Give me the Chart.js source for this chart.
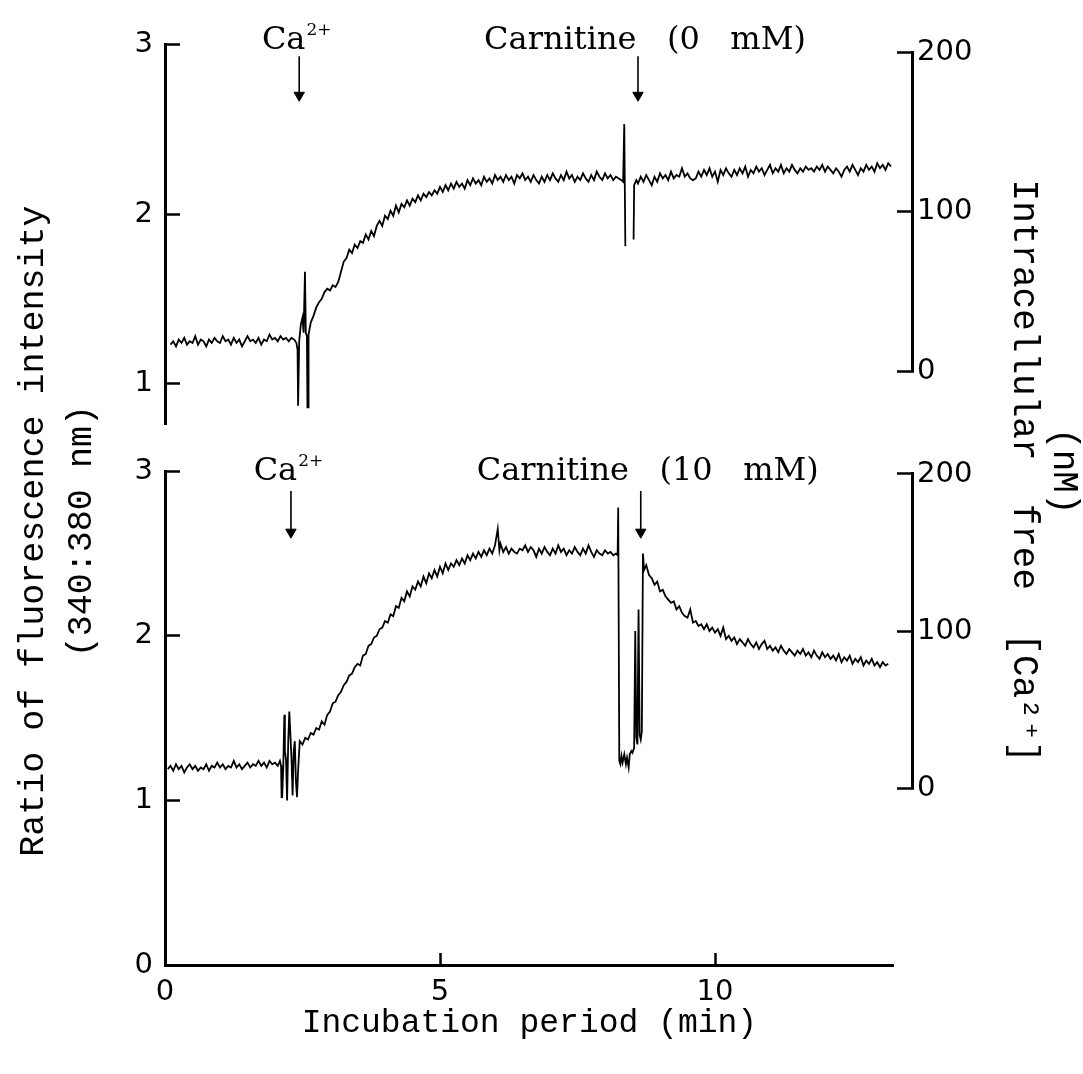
<!DOCTYPE html>
<html>
<head>
<meta charset="utf-8">
<script src="https://cdn.jsdelivr.net/npm/chart.js@4/dist/chart.umd.min.js"></script>
<style>
html,body{margin:0;padding:0;background:#fff;}
#wrap{position:relative;width:1083px;height:1074px;}
canvas{display:block;}
</style>
</head>
<body>
<div id="wrap"><canvas id="c" width="1083" height="1074"></canvas></div>
<script>
// ---------------- DATA ----------------
// Axis tick labels
const timeTicks = [0, 5, 10];
const ratioTicksTop = [1, 2, 3];
const ratioTicksBottom = [0, 1, 2, 3];
const caTicks = [0, 100, 200];

// Events (time in min) and their labels
const topEventTimes = [2.44, 8.60];
const topEventLabels = [['Ca', '2+'], ['Carnitine   (0   mM)', '']];
const bottomEventTimes = [2.29, 8.65];
const bottomEventLabels = [['Ca', '2+'], ['Carnitine   (10   mM)', '']];

// Top trace: carnitine 0 mM  [time (min), ratio 340:380]
const topTrace = [
[0.10,1.23],[0.15,1.25],[0.20,1.22],[0.25,1.26],[0.30,1.24],[0.35,1.27],[0.40,1.23],[0.45,1.25],[0.50,1.24],[0.55,1.28],
[0.60,1.23],[0.65,1.26],[0.70,1.25],[0.75,1.22],[0.80,1.26],[0.85,1.24],[0.90,1.27],[0.95,1.25],[1.00,1.24],[1.05,1.28],
[1.10,1.25],[1.15,1.26],[1.20,1.23],[1.25,1.27],[1.30,1.24],[1.35,1.26],[1.40,1.22],[1.45,1.25],[1.50,1.28],[1.55,1.25],
[1.60,1.26],[1.65,1.24],[1.70,1.27],[1.75,1.23],[1.80,1.26],[1.85,1.25],[1.90,1.29],[1.95,1.26],[2.00,1.27],[2.05,1.25],
[2.10,1.28],[2.15,1.26],[2.20,1.27],[2.25,1.25],[2.30,1.27],[2.35,1.26],
[2.39,1.24],[2.41,1.20],[2.42,0.87],[2.44,1.25],[2.47,1.35],[2.50,1.39],[2.52,1.30],[2.545,1.66],[2.56,1.30],[2.58,1.28],
[2.59,0.86],[2.605,0.86],[2.61,1.29],
[2.65,1.36],[2.70,1.40],[2.75,1.45],[2.80,1.48],[2.85,1.50],[2.90,1.54],[2.95,1.56],[3.00,1.55],[3.05,1.58],[3.10,1.57],
[3.15,1.60],[3.20,1.66],[3.25,1.72],[3.30,1.74],[3.35,1.79],[3.40,1.77],[3.45,1.82],[3.50,1.80],[3.55,1.84],[3.60,1.83],
[3.65,1.88],[3.70,1.85],[3.75,1.90],[3.80,1.87],[3.85,1.93],[3.90,1.96],[3.95,1.93],[4.00,1.99],[4.05,1.97],[4.10,2.02],
[4.15,1.99],[4.20,2.05],[4.25,2.01],[4.30,2.06],[4.35,2.04],[4.40,2.08],[4.45,2.05],[4.50,2.09],[4.55,2.07],[4.60,2.11],
[4.65,2.08],[4.70,2.12],[4.75,2.10],[4.80,2.13],[4.85,2.11],[4.90,2.14],[4.95,2.12],[5.00,2.16],[5.05,2.13],[5.10,2.17],
[5.15,2.14],[5.20,2.18],[5.25,2.15],[5.30,2.19],[5.35,2.16],[5.40,2.18],[5.45,2.15],[5.50,2.20],[5.55,2.17],[5.60,2.21],
[5.65,2.18],[5.70,2.20],[5.75,2.17],[5.80,2.22],[5.85,2.19],[5.90,2.21],[5.95,2.18],[6.00,2.23],[6.05,2.20],[6.10,2.22],
[6.15,2.19],[6.20,2.23],[6.25,2.20],[6.30,2.22],[6.35,2.18],[6.40,2.23],[6.45,2.21],[6.50,2.24],[6.55,2.20],[6.60,2.22],
[6.65,2.19],[6.70,2.23],[6.75,2.20],[6.80,2.18],[6.85,2.22],[6.90,2.19],[6.95,2.23],[7.00,2.20],[7.05,2.24],[7.10,2.21],
[7.15,2.19],[7.20,2.23],[7.25,2.20],[7.30,2.25],[7.35,2.21],[7.40,2.23],[7.45,2.19],[7.50,2.22],[7.55,2.20],[7.60,2.24],
[7.65,2.21],[7.70,2.19],[7.75,2.23],[7.80,2.20],[7.85,2.25],[7.90,2.22],[7.95,2.20],[8.00,2.24],[8.05,2.21],[8.10,2.23],
[8.15,2.20],[8.20,2.22],[8.25,2.21],[8.30,2.20],[8.33,2.19],[8.35,2.53],[8.37,1.81],[8.45,null],
[8.52,1.85],[8.53,2.17],[8.57,2.20],[8.60,2.18],[8.65,2.22],[8.70,2.19],[8.75,2.23],[8.80,2.20],[8.85,2.17],[8.90,2.22],
[8.95,2.19],[9.00,2.24],[9.05,2.21],[9.10,2.23],[9.15,2.20],[9.20,2.25],[9.25,2.21],[9.30,2.23],[9.35,2.22],[9.40,2.27],
[9.45,2.22],[9.50,2.24],[9.55,2.21],[9.60,2.20],[9.65,2.21],[9.70,2.25],[9.75,2.22],[9.80,2.26],[9.85,2.23],[9.90,2.27],
[9.95,2.22],[10.00,2.25],[10.05,2.19],[10.10,2.26],[10.15,2.23],[10.20,2.27],[10.25,2.24],[10.30,2.22],[10.35,2.26],[10.40,2.23],
[10.45,2.27],[10.50,2.24],[10.55,2.28],[10.60,2.22],[10.65,2.26],[10.70,2.24],[10.75,2.28],[10.80,2.25],[10.85,2.27],[10.90,2.23],
[10.95,2.26],[11.00,2.29],[11.05,2.24],[11.10,2.27],[11.15,2.25],[11.20,2.29],[11.25,2.24],[11.30,2.27],[11.35,2.25],[11.40,2.29],
[11.45,2.26],[11.50,2.24],[11.55,2.27],[11.60,2.25],[11.65,2.28],[11.70,2.26],[11.75,2.27],[11.80,2.25],[11.85,2.28],[11.90,2.26],
[11.95,2.29],[12.00,2.25],[12.05,2.28],[12.10,2.26],[12.15,2.24],[12.20,2.27],[12.25,2.25],[12.30,2.22],[12.35,2.26],[12.40,2.28],
[12.45,2.25],[12.50,2.29],[12.55,2.26],[12.60,2.23],[12.65,2.27],[12.70,2.25],[12.75,2.29],[12.80,2.26],[12.85,2.28],[12.90,2.25],
[12.95,2.30],[13.00,2.27],[13.05,2.29],[13.10,2.26],[13.15,2.30],[13.20,2.28]
];

// Bottom trace: carnitine 10 mM  [time (min), ratio 340:380]
const bottomTrace = [
[0.05,1.19],[0.10,1.21],[0.15,1.18],[0.20,1.22],[0.25,1.19],[0.30,1.21],[0.35,1.17],[0.40,1.20],[0.45,1.22],[0.50,1.19],
[0.55,1.21],[0.60,1.18],[0.65,1.20],[0.70,1.19],[0.75,1.22],[0.80,1.18],[0.85,1.21],[0.90,1.20],[0.95,1.23],[1.00,1.20],
[1.05,1.22],[1.10,1.19],[1.15,1.21],[1.20,1.20],[1.25,1.24],[1.30,1.20],[1.35,1.22],[1.40,1.19],[1.45,1.21],[1.50,1.23],
[1.55,1.20],[1.60,1.22],[1.65,1.21],[1.70,1.24],[1.75,1.21],[1.80,1.23],[1.85,1.20],[1.90,1.24],[1.95,1.22],[2.00,1.23],
[2.05,1.21],[2.09,1.24],
[2.11,1.21],[2.12,1.02],[2.13,1.02],[2.15,1.20],[2.17,1.52],[2.18,1.30],[2.20,1.25],[2.22,1.00],[2.24,1.35],[2.26,1.54],
[2.28,1.40],[2.30,1.25],[2.32,1.03],[2.34,1.30],[2.36,1.36],[2.38,1.12],[2.40,1.02],[2.42,1.18],
[2.45,1.36],[2.50,1.34],[2.55,1.38],[2.60,1.37],[2.65,1.41],[2.70,1.40],[2.75,1.44],[2.80,1.43],[2.85,1.48],[2.90,1.46],
[2.95,1.52],[3.00,1.54],[3.05,1.59],[3.10,1.60],[3.15,1.64],[3.20,1.66],[3.25,1.70],[3.30,1.72],[3.35,1.76],[3.40,1.77],
[3.45,1.81],[3.50,1.83],[3.55,1.82],[3.60,1.88],[3.65,1.89],[3.70,1.94],[3.75,1.95],[3.80,1.99],[3.85,2.00],[3.90,2.04],
[3.95,2.05],[4.00,2.09],[4.05,2.08],[4.10,2.13],[4.15,2.12],[4.20,2.18],[4.25,2.17],[4.30,2.23],[4.35,2.21],[4.40,2.27],
[4.45,2.24],[4.50,2.30],[4.55,2.28],[4.60,2.33],[4.65,2.30],[4.70,2.36],[4.75,2.32],[4.80,2.38],[4.85,2.35],[4.90,2.40],
[4.95,2.36],[5.00,2.42],[5.05,2.38],[5.10,2.44],[5.15,2.40],[5.20,2.44],[5.25,2.42],[5.30,2.46],[5.35,2.43],[5.40,2.47],
[5.45,2.44],[5.50,2.49],[5.55,2.46],[5.60,2.50],[5.65,2.47],[5.70,2.51],[5.75,2.48],[5.80,2.52],[5.85,2.49],[5.90,2.53],
[5.95,2.50],[6.00,2.55],[6.05,2.65],[6.08,2.52],[6.10,2.56],[6.15,2.51],[6.20,2.54],[6.25,2.50],[6.30,2.53],[6.35,2.51],
[6.40,2.50],[6.45,2.53],[6.50,2.52],[6.55,2.55],[6.60,2.51],[6.65,2.54],[6.70,2.52],[6.75,2.48],[6.80,2.53],[6.85,2.50],
[6.90,2.54],[6.95,2.51],[7.00,2.49],[7.05,2.53],[7.10,2.50],[7.15,2.55],[7.20,2.51],[7.25,2.53],[7.30,2.49],[7.35,2.52],
[7.40,2.50],[7.45,2.54],[7.50,2.51],[7.55,2.49],[7.60,2.53],[7.65,2.50],[7.70,2.55],[7.75,2.51],[7.80,2.48],[7.85,2.52],
[7.90,2.50],[7.95,2.49],[8.00,2.52],[8.05,2.50],[8.10,2.51],[8.15,2.49],[8.20,2.50],[8.23,2.49],
[8.24,2.78],[8.26,1.24],[8.28,1.22],[8.30,1.27],[8.32,1.23],[8.35,1.28],[8.38,1.22],[8.40,1.26],[8.43,1.20],[8.45,1.28],
[8.48,1.30],[8.50,1.29],[8.53,1.32],[8.55,2.03],[8.57,1.38],[8.59,1.34],[8.61,2.16],[8.63,1.40],[8.65,1.37],[8.67,1.42],
[8.69,2.50],[8.71,2.40],[8.75,2.43],[8.80,2.37],[8.85,2.35],[8.90,2.31],[8.95,2.33],[9.00,2.27],[9.05,2.28],[9.10,2.24],
[9.15,2.22],[9.20,2.20],[9.25,2.21],[9.30,2.16],[9.35,2.18],[9.40,2.14],[9.45,2.12],[9.50,2.11],[9.55,2.16],[9.60,2.08],
[9.65,2.09],[9.70,2.06],[9.75,2.07],[9.80,2.04],[9.85,2.07],[9.90,2.03],[9.95,2.05],[10.00,2.02],[10.05,2.04],[10.10,2.00],
[10.15,2.05],[10.20,1.98],[10.25,2.00],[10.30,1.97],[10.35,1.99],[10.40,1.95],[10.45,1.98],[10.50,1.96],[10.55,1.94],[10.60,1.98],
[10.65,1.95],[10.70,1.93],[10.75,1.96],[10.80,1.92],[10.85,1.95],[10.90,1.97],[10.95,1.92],[11.00,1.94],[11.05,1.91],[11.10,1.93],
[11.15,1.90],[11.20,1.94],[11.25,1.91],[11.30,1.89],[11.35,1.92],[11.40,1.90],[11.45,1.88],[11.50,1.91],[11.55,1.89],[11.60,1.92],
[11.65,1.88],[11.70,1.90],[11.75,1.87],[11.80,1.91],[11.85,1.88],[11.90,1.86],[11.95,1.90],[12.00,1.87],[12.05,1.89],[12.10,1.86],
[12.15,1.88],[12.20,1.85],[12.25,1.89],[12.30,1.84],[12.35,1.87],[12.40,1.85],[12.45,1.88],[12.50,1.83],[12.55,1.86],[12.60,1.84],
[12.65,1.87],[12.70,1.82],[12.75,1.85],[12.80,1.83],[12.85,1.86],[12.90,1.82],[12.95,1.84],[13.00,1.81],[13.05,1.84],[13.10,1.82],
[13.15,1.83]
];

// ---------------- LAYOUT / STYLE ----------------
const INK = '#000';
const tickFont = {family: 'DejaVu Sans', size: 29};
const annFont = '32px "DejaVu Serif"';
const supFont = '17px "DejaVu Serif"';
const typeFamily = '"Liberation Mono", "DejaVu Sans Mono", monospace';

function setTicks(arr) { return s => { s.ticks = arr.map(v => ({value: v})); }; }
function fixW(w) { return s => { s.width = w; }; }
function fixH(h) { return s => { s.height = h; }; }

function valueAxis(pos, stack, stackWeight, weight, min, max, ticks, width, tickPad) {
  return {
    type: 'linear', position: pos, stack, stackWeight, weight, min, max,
    afterBuildTicks: setTicks(ticks), afterFit: fixW(width),
    border: {display: true, color: INK, width: 3},
    grid: {drawOnChartArea: false, drawTicks: true, tickLength: -15, tickWidth: 2.5, tickColor: INK},
    ticks: {color: INK, font: tickFont, padding: tickPad, autoSkip: false}
  };
}
function spacerAxis(pos, stack, stackWeight, weight, width) {
  return {type: 'linear', position: pos, stack, stackWeight, weight, display: false, afterFit: fixW(width)};
}
function titleAxis(pos, stack, stackWeight, weight, text, width, pad, lh, size) {
  return {
    type: 'linear', position: pos, stack, stackWeight, weight, afterFit: fixW(width),
    border: {display: false}, grid: {display: false, drawTicks: false},
    ticks: {display: false},
    title: {display: true, text, color: INK, font: {family: typeFamily, size, lineHeight: lh},
            padding: {top: pad, bottom: 0}}
  };
}

const scales = {
  x: {
    type: 'linear', position: 'bottom', min: 0, max: 13.25,
    afterBuildTicks: setTicks(timeTicks), afterFit: fixH(109),
    border: {display: true, color: INK, width: 3},
    grid: {drawOnChartArea: false, drawTicks: true, tickLength: -12, tickWidth: 2.5, tickColor: INK},
    ticks: {color: INK, font: tickFont, padding: 22, maxRotation: 0, autoSkip: false},
    title: {display: true, text: 'Incubation period (min)', color: INK,
            font: {family: typeFamily, size: 33, lineHeight: 1.2}, padding: {top: 0, bottom: 31}}
  },
  // left: title column (stack T) and ratio axes (stack L)
  yts: spacerAxis('left', 'T', 53, 21, 100),
  yTitle: titleAxis('left', 'T', 870, 20, ['Ratio of fluorescence intensity', '(340:380 nm)'], 100, 10, 1.37, 35),
  yTop: valueAxis('left', 'L', 381, 3, 0.76, 3, ratioTicksTop, 65, 27),
  yGap: spacerAxis('left', 'L', 47, 2, 65),
  yBot: valueAxis('left', 'L', 495, 1, 0, 3, ratioTicksBottom, 65, 27),
  // right: gap, [Ca2+] axes (stack R), title column (stack RT)
  rPad: {type: 'linear', position: 'right', weight: 0, afterFit: fixW(18.25),
         border: {display: false}, grid: {display: false, drawTicks: false}, ticks: {display: false}},
  rs1: spacerAxis('right', 'R', 8, 1, 88),
  rTop: valueAxis('right', 'R', 320, 2, 0, 200, caTicks, 88, 20),
  rs2: spacerAxis('right', 'R', 102.7, 3, 88),
  rBot: valueAxis('right', 'R', 315.3, 4, 0, 200, caTicks, 88, 20),
  rs3: spacerAxis('right', 'R', 177, 5, 88),
  rTitle: titleAxis('right', 'RT', 856, 6, ['(nM)', 'Intracellular  free  [Ca\u00B2\u207A]'], 83, 0, 1.1, 36),
  rts1: spacerAxis('right', 'RT', 67, 7, 83)
};

// arrow levels (ratio units of each panel) and label baselines
const arrowSpec = {yTop: [2.93, 2.70], yBot: [2.88, 2.63]};
const labelLevel = {yTop: 2.975, yBot: 2.945};
const labelShift = 7;

function arrowDatasets(times, axis) {
  return times.map(t => ({
    data: [{x: t, y: arrowSpec[axis][0]}, {x: t, y: arrowSpec[axis][1]}],
    xAxisID: 'x', yAxisID: axis, borderColor: INK, borderWidth: 1.6,
    pointRadius: [0, 6], pointStyle: 'triangle', rotation: 180,
    pointBackgroundColor: INK, pointBorderColor: INK, pointBorderWidth: 1, clip: false
  }));
}

const labelPlugin = {
  id: 'eventLabels',
  afterDraw(chart) {
    const ctx = chart.ctx, xs = chart.scales.x;
    const groups = [[topEventTimes, topEventLabels, 'yTop'], [bottomEventTimes, bottomEventLabels, 'yBot']];
    ctx.save();
    ctx.fillStyle = INK;
    ctx.textBaseline = 'alphabetic';
    ctx.textAlign = 'left';
    for (const [times, labels, axis] of groups) {
      const ys = chart.scales[axis];
      times.forEach((t, i) => {
        const [main, sup] = labels[i];
        ctx.font = annFont; const w1 = ctx.measureText(main).width;
        ctx.font = supFont; const w2 = sup ? ctx.measureText(sup).width : 0;
        const cx = xs.getPixelForValue(t) + (sup ? -3 : labelShift), by = ys.getPixelForValue(labelLevel[axis]);
        const x0 = cx - (w1 + w2) / 2;
        ctx.font = annFont; ctx.fillText(main, x0, by);
        if (sup) { ctx.font = supFont; ctx.fillText(sup, x0 + w1 + 1, by - 14); }
      });
    }
    ctx.restore();
  }
};

const traceStyle = {borderColor: INK, borderWidth: 1.8, pointRadius: 0, tension: 0, spanGaps: false, xAxisID: 'x'};

new Chart(document.getElementById('c'), {
  type: 'line',
  data: {
    datasets: [
      Object.assign({data: topTrace.map(p => ({x: p[0], y: p[1]})), yAxisID: 'yTop'}, traceStyle),
      Object.assign({data: bottomTrace.map(p => ({x: p[0], y: p[1]})), yAxisID: 'yBot'}, traceStyle),
      ...arrowDatasets(topEventTimes, 'yTop'),
      ...arrowDatasets(bottomEventTimes, 'yBot')
    ]
  },
  options: {
    responsive: false, animation: false, devicePixelRatio: 1,
    layout: {padding: {top: 42, left: 0, right: 0, bottom: 0}},
    plugins: {legend: {display: false}, tooltip: {enabled: false}},
    scales
  },
  plugins: [labelPlugin]
});
</script>
</body>
</html>
